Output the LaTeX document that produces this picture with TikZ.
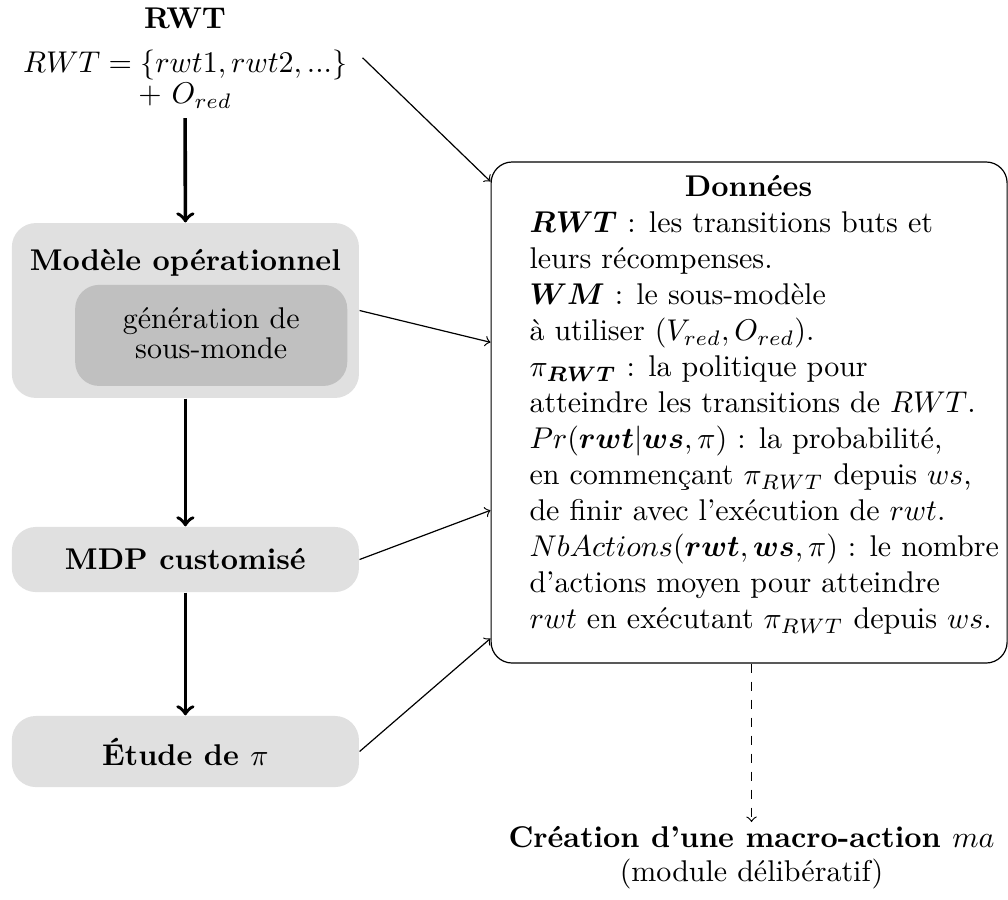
\documentclass[tikz,border=0pt]{standalone}
\usepackage{amsmath}
\usetikzlibrary{calc}
\definecolor{boxgrey}{RGB}{224,224,224}
\definecolor{innergrey}{RGB}{192,192,192}

\begin{document}
\begin{tikzpicture}[x=1pt,y=1pt,
  stage/.style={fill=boxgrey, rounded corners=8pt, minimum width=115.7pt,
    inner sep=0pt, font=\bfseries},
  substage/.style={fill=innergrey, rounded corners=8pt, minimum width=90.7pt,
    minimum height=33.7pt, inner sep=0pt, align=center},
  databox/.style={draw, rounded corners=7pt, minimum width=172pt,
    minimum height=167pt, inner sep=0pt},
  flow/.style={->, very thick},
  feed/.style={->},
]
\useasboundingbox (0,0) rectangle (336,-299.67);

% input set of goal transitions
\node[align=center, anchor=north, inner xsep=5pt, inner ysep=3.2pt] (rwt) at (61.7,0.86)
  {\textbf{RWT}\\[2.8pt]
   $RWT=\{rwt1, rwt2, ...\}$\\[-1.7pt]
   + $O_{red}$};

% pipeline on the left
\node[stage, minimum height=58.3pt] (mod) at (61.8,-103.5) {};
\node[font=\bfseries, anchor=base, inner sep=0pt] (modtitle) at (61.8,-90) {Modèle opérationnel};
\node[substage] (sub) at (70.4,-111.8) {\raisebox{0pt}[6.9pt][0pt]{génération de}\\[-1.8pt]sous-monde\rule[-1.6pt]{0pt}{1pt}};
\node[stage, minimum height=21.7pt] (mdp) at (61.8,-186.5) {MDP customisé};
\node[stage, minimum height=23.7pt] (etude) at (61.8,-250.5) {Étude de $\pi$};

% data box
\node[databox] (data) at (249.7,-137.5) {};
\node[font=\bfseries, anchor=base, inner sep=0pt] (datatitle) at (249.5,-65.6) {Données};
\node[align=left, anchor=north west, inner sep=0pt] (datatext) at (176.3,-70.5)
  {$\boldsymbol{RWT}$ : les transitions buts et\\
   leurs récompenses.\\
   $\boldsymbol{WM}$ : le sous-modèle\\
   à utiliser $(V_{red}, O_{red})$.\\
   $\pi_{\boldsymbol{RWT}}$ : la politique pour\\
   atteindre les transitions de $RWT$.\\
   $Pr(\boldsymbol{rwt}|\boldsymbol{ws}, \pi)$ : la probabilité,\\
   en commençant $\pi_{RWT}$ depuis $ws$,\\
   de finir avec l'exécution de $rwt$.\\
   $NbActions(\boldsymbol{rwt}, \boldsymbol{ws}, \pi)$ : le nombre\\
   d'actions moyen pour atteindre\\
   $rwt$ en exécutant $\pi_{RWT}$ depuis $ws$.};

% result
\node[align=center, anchor=north, inner xsep=3pt, inner ysep=1.2pt] (result) at (250.5,-274)
  {\textbf{Création d'une macro-action $ma$}\\[-0.7pt]
   (module délibératif)};

% main flow
\draw[flow] (rwt.south) -- (mod.north);
\draw[flow] (mod.south) -- (mdp.north);
\draw[flow] (mdp.south) -- (etude.north);

% everything feeds the data box
\draw[feed] (rwt.east) -- ([yshift=-6.7pt]data.north west);
\draw[feed] (mod.east) -- ([yshift=-60.3pt]data.north west);
\draw[feed] (mdp.east) -- ([yshift=-116.3pt]data.north west);
\draw[feed] (etude.east) -- ([yshift=-159pt]data.north west);

% data box to macro-action creation
\draw[feed, dashed] (result.north |- data.south) -- (result.north);
\end{tikzpicture}
\end{document}
